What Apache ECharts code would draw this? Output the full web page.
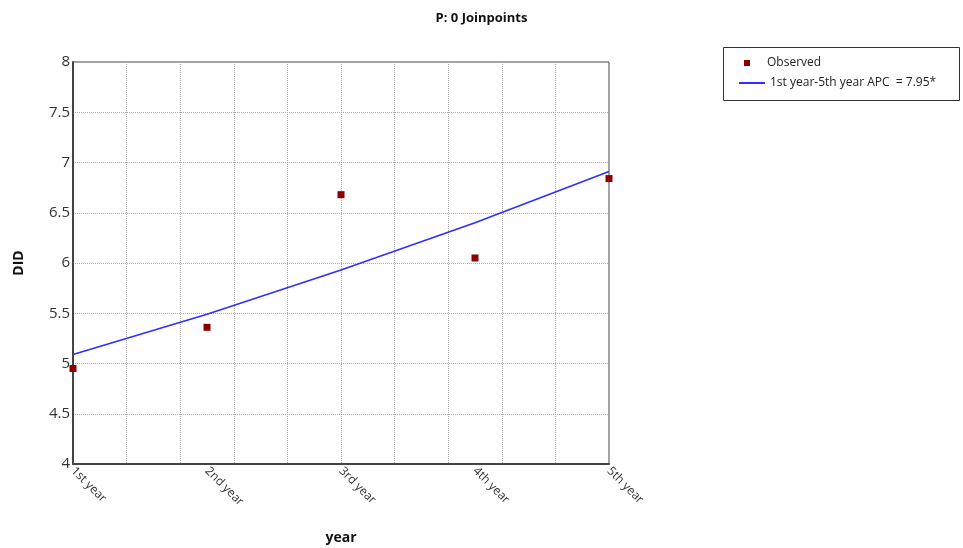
<!DOCTYPE html>
<html>
<head>
<meta charset="utf-8">
<script src="https://cdn.jsdelivr.net/npm/echarts@6/dist/echarts.min.js"></script>
<style>html,body{margin:0;padding:0;background:#fff}#c{width:963px;height:548px}</style>
</head>
<body>
<div id="c"></div>
<script>
const categories = ['1st year', '2nd year', '3rd year', '4th year', '5th year'];
const observed = [4.95, 5.36, 6.68, 6.05, 6.84];
const fitted = [5.09, 5.49, 5.93, 6.40, 6.91];
const yTicks = [4, 4.5, 5, 5.5, 6, 6.5, 7, 7.5, 8];
const lineName = '1st year-5th year APC  = 7.95*';

const font = '"Open Sans", "Noto Sans", sans-serif';
const chart = echarts.init(document.getElementById('c'));
chart.setOption({
  animation: false,
  textStyle: { fontFamily: font },
  title: {
    text: 'P: 0 Joinpoints', left: 'center', top: 7,
    textStyle: { fontSize: 13, fontWeight: 'bold', color: '#111', fontFamily: font }
  },
  grid: { left: 73, top: 62, width: 536, height: 402, show: true, borderColor: '#444', borderWidth: 1, outerBoundsMode: 'none', containLabel: false },
  xAxis: [
    {
      type: 'value', min: 1, max: 5, interval: 0.4, position: 'bottom',
      axisLine: { show: false }, axisTick: { show: false }, axisLabel: { show: false },
      splitLine: { show: true, lineStyle: { color: '#aaa', type: [1, 1], width: 1 } }
    },
    {
      type: 'value', min: 1, max: 5, interval: 1, position: 'bottom',
      name: 'year', nameLocation: 'middle', nameGap: 67,
      nameTextStyle: { fontSize: 14, fontWeight: 'bold', color: '#111', fontFamily: font },
      axisLine: { show: true, lineStyle: { color: '#444', width: 2 } },
      axisTick: { show: false },
      splitLine: { show: false },
      axisLabel: {
        rotate: -45, margin: 5, fontSize: 12, color: '#333',
        formatter: v => categories[Math.round(v) - 1] || ''
      }
    }
  ],
  yAxis: {
    type: 'value', min: yTicks[0], max: yTicks[yTicks.length - 1], interval: 0.5,
    name: 'DID', nameLocation: 'middle', nameGap: 47,
    nameTextStyle: { fontSize: 14, fontWeight: 'bold', color: '#111', fontFamily: font },
    axisLine: { show: true, lineStyle: { color: '#444', width: 2 } },
    axisTick: { show: false },
    axisLabel: { fontSize: 15, color: '#333', margin: 3 },
    splitLine: { show: true, lineStyle: { color: '#aaa', type: [1, 1], width: 1 } }
  },
  legend: [
    {
      data: ['Observed'], left: 739, top: 52, orient: 'vertical',
      itemWidth: 6, itemHeight: 6, icon: 'rect',
      textStyle: { fontSize: 12, color: '#222', padding: [0, 0, 0, 12] }
    },
    {
      data: [lineName], left: 734, top: 72, orient: 'vertical',
      itemWidth: 26, itemHeight: 2, icon: 'rect',
      textStyle: { fontSize: 12, color: '#222' }
    }
  ],
  graphic: [
    { type: 'rect', shape: { x: 723.5, y: 47.5, width: 236, height: 53 }, style: { fill: 'none', stroke: '#333', lineWidth: 1 }, z: 10 }
  ],
  series: [
    {
      name: lineName, type: 'line', xAxisIndex: 0,
      data: fitted.map((v, i) => [i + 1, v]),
      showSymbol: false, symbol: 'none',
      lineStyle: { color: '#2e2eff', width: 1.5 }, itemStyle: { color: '#2e2eff' }, z: 3
    },
    {
      name: 'Observed', type: 'scatter', xAxisIndex: 0,
      data: observed.map((v, i) => [i + 1, v]),
      symbol: 'rect', symbolSize: 7,
      itemStyle: { color: '#8b0000', opacity: 1 }, z: 4
    }
  ]
});
</script>
</body>
</html>
